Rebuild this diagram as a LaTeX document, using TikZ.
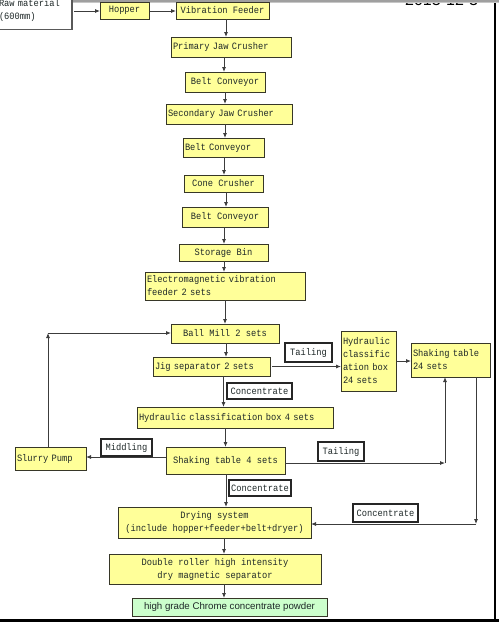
\documentclass[tikz,border=0pt]{standalone}
\usepackage{fontspec}
\setmainfont{Liberation Mono}[FakeStretch=0.9]
\newfontfamily\sansf{Liberation Sans}
\usetikzlibrary{arrows.meta}
\definecolor{boxyellow}{RGB}{255,255,153}
\definecolor{boxgreen}{RGB}{204,255,204}
\definecolor{boxline}{RGB}{55,55,40}
\definecolor{txt}{RGB}{30,40,40}
\definecolor{lin}{RGB}{60,60,60}
\begin{document}
\begin{tikzpicture}[x=1pt,y=-1pt,
  box/.style={draw=boxline, fill=boxyellow, line width=1pt, inner sep=0pt, outer sep=0pt,
    text=txt, font=\fontsize{9.7}{13}\selectfont, align=center},
  lbl/.style={box, fill=white, draw=black!85, line width=1.2pt},
  sz/.style 2 args={minimum width=#1pt, minimum height=#2pt},
  lft/.style={text width=#1pt, align=left},
  arr/.style={draw=lin, line width=0.8pt, -{Latex[length=5pt,width=4pt]}}]
\useasboundingbox (0,0) rectangle (499,622);
\clip (0,0) rectangle (499,622);
\fill[white] (0,0) rectangle (499,622);
% date (clipped at top)
\node[anchor=base west, inner sep=0pt, font=\sansf\fontsize{16}{16}\selectfont] (date) at (405,5.5) {2013-12-3};
% frame
\fill[gray!75] (0,0) rectangle (499,1.6);
\draw[gray!45, line width=1pt] (0,2.6) -- (499,2.6);
\draw[black, line width=2.5pt] (495,3) -- (495,622);
\draw[black, line width=3pt] (0,620.5) -- (499,620.5);
% boxes
\node[lbl, draw=gray!70!black, line width=1.4pt, sz={75}{39}, lft={71}] (raw) at (34.5,10) {Raw material\\(600mm)};
\node[box, sz={49}{17}] (hopper) at (124.5,10.5) {Hopper};
\node[box, sz={93}{17}] (vib) at (222.5,10.5) {Vibration Feeder};
\node[box, sz={120}{20}, lft={116}] (pjc) at (231,47) {Primary Jaw Crusher};
\node[box, sz={80}{20}] (bc1) at (225,82) {Belt Conveyor};
\node[box, sz={126}{20}, lft={122}] (sjc) at (229,114) {Secondary Jaw Crusher};
\node[box, sz={81}{19}, lft={77}] (bc2) at (223.5,147.5) {Belt Conveyor};
\node[box, sz={79}{17}] (cone) at (223.5,183.5) {Cone Crusher};
\node[box, sz={86}{20}] (bc3) at (225,217) {Belt Conveyor};
\node[box, sz={89}{17}] (bin) at (223.5,252.5) {Storage Bin};
\node[box, sz={160}{28}, lft={156}] (emf) at (225,286) {Electromagnetic vibration\\feeder 2 sets};
\node[box, sz={108}{19}] (ball) at (225,333.5) {Ball Mill 2 sets};
\node[box, sz={117}{19}, lft={113}] (jig) at (211.5,366.5) {Jig separator 2 sets};
\node[lbl, sz={47}{19}] (tail1) at (308.5,352.5) {Tailing};
\node[box, sz={55}{60}, lft={51}] (hcb24) at (368.5,361) {Hydraulic\\classific\\ation box\\24 sets};
\node[box, sz={79}{34}, lft={75}] (st24) at (450.5,360) {Shaking table\\24 sets};
\node[lbl, sz={65}{16}] (conc1) at (259.5,391) {Concentrate};
\node[box, sz={196}{21}, lft={192}] (hcb4) at (235,417.5) {Hydraulic classification box 4 sets};
\node[box, sz={71}{23}, lft={67}] (slurry) at (50.5,458.5) {Slurry Pump};
\node[lbl, sz={51}{17}] (mid) at (126.5,447.5) {Middling};
\node[box, sz={119}{27}] (st4) at (225.5,460.5) {Shaking table 4 sets};
\node[lbl, sz={46}{19}] (tail2) at (341,451.5) {Tailing};
\node[lbl, sz={62}{16}] (conc2) at (260,488) {Concentrate};
\node[lbl, sz={65}{18}] (conc3) at (385.5,513) {Concentrate};
\node[box, sz={193}{31}] (dry) at (214.5,522.5) {Drying system\\(include hopper+feeder+belt+dryer)};
\node[box, sz={212}{30}] (dbl) at (215,569) {Double roller high intensity\\dry magnetic separator};
\node[box, fill=boxgreen, sz={195}{18}, font=\sansf\fontsize{9.7}{12}\selectfont] (hg) at (229.5,607) {high grade Chrome concentrate powder};
% connectors
\draw[arr] ([xshift=2pt]raw.east |- 0,11) -- (hopper.west |- 0,11);
\draw[arr] ([xshift=1pt]hopper.east |- 0,11) -- (vib.west |- 0,11);
\draw[arr] (vib.south -| 226,0) -- (pjc.north -| 226,0);
\draw[arr] (pjc.south -| 224,0) -- (bc1.north -| 224,0);
\draw[arr] (bc1.south -| 225,0) -- (sjc.north -| 225,0);
\draw[arr] (sjc.south -| 225,0) -- (bc2.north -| 225,0);
\draw[arr] (bc2.south -| 224,0) -- (cone.north -| 224,0);
\draw[arr] (cone.south -| 226,0) -- (bc3.north -| 226,0);
\draw[arr] (bc3.south -| 224,0) -- (bin.north -| 224,0);
\draw[arr] (bin.south -| 224,0) -- (emf.north -| 224,0);
\draw[arr] (emf.south -| 225,0) -- (ball.north -| 225,0);
\draw[arr] (ball.south -| 226,0) -- (jig.north -| 226,0);
\draw[arr] ([xshift=2pt]jig.east) -- (hcb24.west |- jig.east);
\draw[arr] (hcb24.east) -- (st24.west |- hcb24.east);
\draw[arr] (jig.south -| 223.5,0) -- (hcb4.north -| 223.5,0);
\draw[arr] (hcb4.south -| 225.5,0) -- (st4.north -| 225.5,0);
\draw[arr] (st4.west |- 0,457) -- (slurry.east |- 0,457);
\coordinate (c1) at (48,333);
\draw[arr] (slurry.north -| c1) -- (c1);
\draw[arr] (c1) -- (ball.west |- c1);
\coordinate (c2) at (445,463);
\draw[arr] (st4.east |- c2) -- (c2);
\draw[arr] (c2) -- (st24.south -| c2);
\coordinate (c3) at (476,524);
\draw[arr] (st24.south -| c3) -- (c3);
\draw[arr] (c3) -- (dry.east |- c3);
\draw[arr] (st4.south -| 226,0) -- (dry.north -| 226,0);
\draw[arr] (dry.south -| 224,0) -- (dbl.north -| 224,0);
\draw[arr] (dbl.south -| 224,0) -- (hg.north -| 224,0);
\end{tikzpicture}
\end{document}
